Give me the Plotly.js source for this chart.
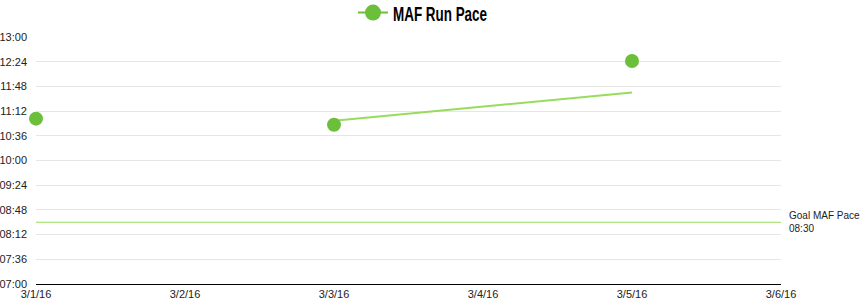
<!DOCTYPE html>
<html>
<head>
<meta charset="utf-8">
<script src="https://cdn.plot.ly/plotly-3.0.1.min.js"></script>
<style>html,body{margin:0;padding:0;background:#fff;}#chart{width:861px;height:300px;}</style>
</head>
<body>
<div id="chart"></div>
<script>
// Data
const runDates = ["2016-03-01", "2016-03-03", "2016-03-05"];
const runPaces = ["11:01", "10:52", "12:25"];
const trendDates = ["2016-03-03", "2016-03-05"];
const trendPaces = ["10:58", "11:39"];
const goalPace = "08:30";
const goalLabel = "Goal MAF Pace";
const seriesName = "MAF Run Pace";
const yTickLabels = ["07:00","07:36","08:12","08:48","09:24","10:00","10:36","11:12","11:48","12:24","13:00"];
const xRange = ["2016-03-01", "2016-03-06"];

function toMin(s){ const p = s.split(":"); return (+p[0])*60 + (+p[1]); }

const green = "#6cbf3a";
const lightGreen = "#98dc5f";

const traces = [
  {
    x: trendDates, y: trendPaces.map(toMin), mode: "lines",
    line: {color: lightGreen, width: 2}, showlegend: false, hoverinfo: "skip"
  },
  {
    x: xRange, y: [toMin(goalPace), toMin(goalPace)], mode: "lines",
    line: {color: lightGreen, width: 1}, showlegend: false, hoverinfo: "skip"
  },
  {
    x: runDates, y: runPaces.map(toMin), mode: "markers", cliponaxis: false,
    marker: {color: green, size: 14}, showlegend: false
  },
  {
    x: [null], y: [null], mode: "lines+markers", name: seriesName,
    marker: {color: green, size: 16}, line: {color: green, width: 2}, showlegend: true
  }
];

const layout = {
  width: 861, height: 300,
  margin: {l: 36, r: 80, t: 37, b: 16, autoexpand: false},
  paper_bgcolor: "#fff", plot_bgcolor: "#fff",
  font: {family: "Liberation Sans, Arial, sans-serif", size: 11, color: "#222"},
  showlegend: true,
  legend: {
    orientation: "h", xref: "container", yref: "container",
    x: 0.41, xanchor: "left", y: 0.957, yanchor: "middle",
    font: {family: "Liberation Sans, Arial, sans-serif", size: 21, weight: "bold", color: "#000"},
    itemwidth: 30, bgcolor: "rgba(0,0,0,0)"
  },
  xaxis: {
    type: "date", range: xRange, dtick: 86400000, tick0: xRange[0],
    tickformat: "%-m/%-d/%y", showgrid: false, zeroline: false,
    showline: true, linecolor: "#000", linewidth: 1, ticks: "",
    tickfont: {size: 11, color: "#222"}, fixedrange: true
  },
  yaxis: {
    range: [toMin(yTickLabels[0]), toMin(yTickLabels[yTickLabels.length-1])],
    tickvals: yTickLabels.map(toMin), ticktext: yTickLabels,
    showgrid: true, gridcolor: "#e6e6e6", gridwidth: 1, zeroline: false,
    showline: false, ticks: "", ticklabelstandoff: 8,
    tickfont: {size: 11, color: "#222"}, fixedrange: true
  },
  annotations: [{
    xref: "paper", yref: "y", x: 1, y: toMin(goalPace), xanchor: "left", yanchor: "middle",
    xshift: 6, align: "left", showarrow: false,
    text: goalLabel + "<br>" + goalPace, font: {size: 10, color: "#222"}
  }]
};

Plotly.newPlot("chart", traces, layout, {displayModeBar: false, staticPlot: true}).then(function(gd){
  // condense the title-like legend text to mimic the narrow bold face
  gd.querySelectorAll(".legendtext").forEach(function(t){
    t.setAttribute("textLength", "94");
    t.setAttribute("lengthAdjust", "spacingAndGlyphs");
  });
});
</script>
</body>
</html>
